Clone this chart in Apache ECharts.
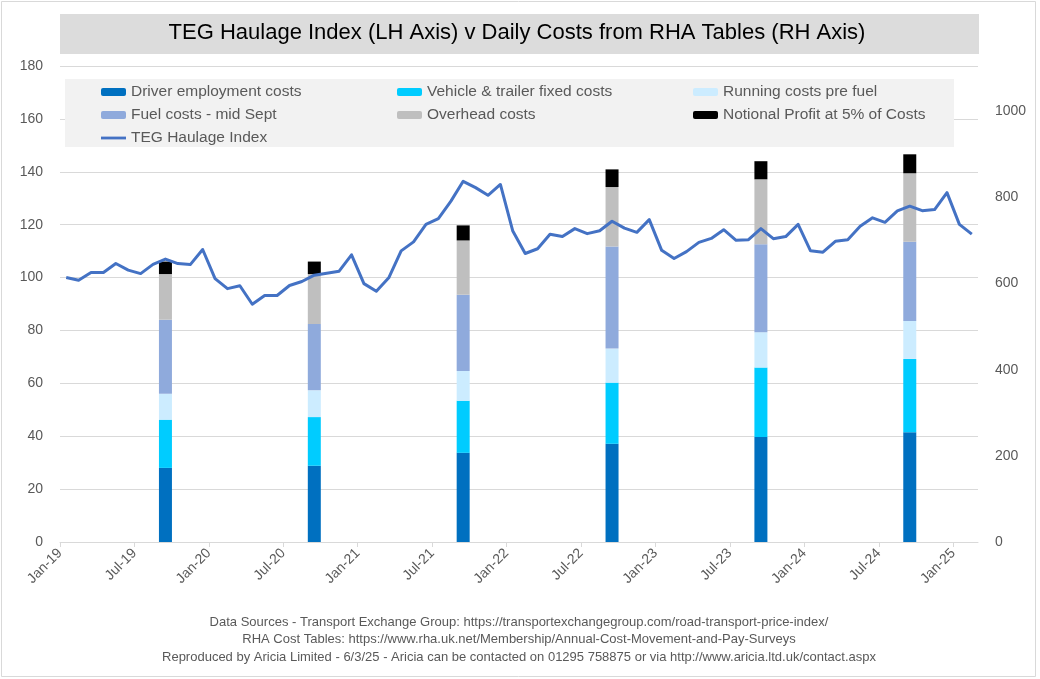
<!DOCTYPE html>
<html>
<head>
<meta charset="utf-8">
<script src="https://cdn.jsdelivr.net/npm/echarts@6/dist/echarts.min.js"></script>
<style>
html,body{margin:0;padding:0;background:#fff;}
#chart{width:1040px;height:679px;}
</style>
</head>
<body>
<div id="chart"></div>
<script>
// ---------------- DATA ----------------
const months = [
 'Jan-19','Feb-19','Mar-19','Apr-19','May-19','Jun-19','Jul-19','Aug-19','Sep-19','Oct-19','Nov-19','Dec-19',
 'Jan-20','Feb-20','Mar-20','Apr-20','May-20','Jun-20','Jul-20','Aug-20','Sep-20','Oct-20','Nov-20','Dec-20',
 'Jan-21','Feb-21','Mar-21','Apr-21','May-21','Jun-21','Jul-21','Aug-21','Sep-21','Oct-21','Nov-21','Dec-21',
 'Jan-22','Feb-22','Mar-22','Apr-22','May-22','Jun-22','Jul-22','Aug-22','Sep-22','Oct-22','Nov-22','Dec-22',
 'Jan-23','Feb-23','Mar-23','Apr-23','May-23','Jun-23','Jul-23','Aug-23','Sep-23','Oct-23','Nov-23','Dec-23',
 'Jan-24','Feb-24','Mar-24','Apr-24','May-24','Jun-24','Jul-24','Aug-24','Sep-24','Oct-24','Nov-24','Dec-24',
 'Jan-25','Feb-25'
];
const tegIndex = [
 100.0, 99.0,101.9,101.9,105.3,102.8,101.5,105.0,107.0,105.3,104.9,110.6,
  99.6, 95.8, 96.9, 89.9, 93.2, 93.2, 97.0, 98.5,100.9,101.6,102.4,108.6,
  97.7, 94.8, 99.9,110.1,113.5,120.1,122.3,128.8,136.4,134.0,131.1,135.2,
 117.6,109.1,110.9,116.4,115.5,118.5,116.6,117.7,121.3,118.7,117.1,121.9,
 110.3,107.2,109.8,113.3,114.8,118.1,114.1,114.3,118.5,114.7,115.5,120.1,
 110.1,109.6,113.7,114.3,119.4,122.6,120.9,125.2,127.0,125.3,125.7,132.1,
 120.1,116.4
];
const costMonths = ['Sep-19','Sep-20','Sep-21','Sep-22','Sep-23','Sep-24'];
const driverCosts   = [172, 177, 207, 228, 244, 255];
const vehicleCosts  = [112, 113, 121, 142, 161, 170];
const runningCosts  = [ 60,  62,  69,  79,  82,  88];
const fuelCosts     = [172, 154, 177, 237, 204, 184];
const overheadCosts = [106, 116, 126, 138, 151, 159];
const profitCosts   = [ 29,  29,  35,  41,  42,  44];
const xTickLabels = ['Jan-19','Jul-19','Jan-20','Jul-20','Jan-21','Jul-21','Jan-22','Jul-22','Jan-23','Jul-23','Jan-24','Jul-24','Jan-25'];
const leftTicks  = [0,20,40,60,80,100,120,140,160,180];
const rightTicks = [0,200,400,600,800,1000];

const titleText = 'TEG Haulage Index (LH Axis) v Daily Costs from RHA Tables (RH Axis)';
const footerLines = [
 'Data Sources - Transport Exchange Group: https://transportexchangegroup.com/road-transport-price-index/',
 'RHA Cost Tables: https://www.rha.uk.net/Membership/Annual-Cost-Movement-and-Pay-Surveys',
 'Reproduced by Aricia Limited - 6/3/25 - Aricia can be contacted on 01295 758875 or via http://www.aricia.ltd.uk/contact.aspx'
];

// ---------------- BUILD ----------------
const FONT = 'Liberation Sans, Arial, sans-serif';
const GREY = '#595959';
const GRID = '#d9d9d9';
const tickPos = xTickLabels.map(m => months.indexOf(m));

function monthly(arr) {
  const out = months.map(() => null);
  costMonths.forEach((m, i) => { out[months.indexOf(m)] = arr[i]; });
  return out;
}
function barSeries(name, arr, color) {
  return {
    name, type: 'bar', stack: 'costs', xAxisIndex: 0, yAxisIndex: 1, barWidth: 13,
    itemStyle: { color }, z: 2, data: monthly(arr)
  };
}

const chart = echarts.init(document.getElementById('chart'), null, { renderer: 'canvas' });
const legendText = { color: GREY, fontSize: 15.5, fontFamily: FONT, lineHeight: 18 };
const legendBase = { orient: 'vertical', top: 83, itemWidth: 25, itemHeight: 8, itemGap: 5,
  textStyle: legendText, selectedMode: false, padding: 0 };
const lineIcon = 'path://M0,0 M25,8 M0,2.6 L25,2.6 L25,5.4 L0,5.4 Z';

chart.setOption({
  animation: false,
  backgroundColor: '#ffffff',
  title: {
    text: titleText, left: 517, top: 22, textAlign: 'center', padding: 0,
    textStyle: { fontFamily: FONT, fontSize: 22, fontWeight: 'normal', color: '#000' }
  },
  graphic: [
    { type: 'rect', shape: { x: 1.5, y: 1.5, width: 1034, height: 675 }, style: { fill: null, stroke: GRID, lineWidth: 1 }, z: 0 },
    { type: 'rect', shape: { x: 60, y: 14, width: 919, height: 40 }, style: { fill: '#dcdcdc' }, z: 0 },
    { type: 'rect', shape: { x: 65, y: 79, width: 889, height: 68 }, style: { fill: '#f2f2f2' }, z: 1 },
    ...footerLines.map((t, k) => ({
      type: 'text', x: 519, y: 622 + k * 17.5,
      style: { text: t, textAlign: 'center', textVerticalAlign: 'middle', fill: GREY, font: '13px ' + FONT }
    }))
  ],
  legend: [
    Object.assign({}, legendBase, { left: 101, data: ['Driver employment costs', 'Fuel costs - mid Sept', { name: 'TEG Haulage Index', icon: lineIcon }] }),
    Object.assign({}, legendBase, { left: 397, data: ['Vehicle & trailer fixed costs', 'Overhead costs'] }),
    Object.assign({}, legendBase, { left: 693, data: ['Running costs pre fuel', 'Notional Profit at 5% of Costs'] })
  ],
  grid: { left: 60, right: 62, top: 66, height: 476, containLabel: false },
  xAxis: [
    {
      type: 'category', data: months, boundaryGap: true,
      axisLine: { show: false }, axisTick: { show: false }, axisLabel: { show: false }, splitLine: { show: false }
    },
    {
      type: 'value', min: 0, max: months.length, position: 'bottom',
      axisLine: { show: true, onZero: false, lineStyle: { color: GRID, width: 1 } },
      axisTick: { show: true, customValues: tickPos, length: 5, lineStyle: { color: GRID } },
      axisLabel: {
        customValues: tickPos, rotate: 45, margin: 9, color: GREY, fontSize: 14, fontFamily: FONT,
        formatter: v => months[Math.round(v)]
      },
      splitLine: { show: false }
    }
  ],
  yAxis: [
    {
      type: 'value', min: 0, max: 180, interval: 20,
      axisLine: { show: false }, axisTick: { show: false },
      axisLabel: { customValues: leftTicks, color: GREY, fontSize: 14, fontFamily: FONT, margin: 17 },
      splitLine: { show: true, lineStyle: { color: GRID, width: 1 } }
    },
    {
      type: 'value', min: 0, max: 1105, interval: 200,
      axisLine: { show: false }, axisTick: { show: false },
      axisLabel: { customValues: rightTicks, color: GREY, fontSize: 14, fontFamily: FONT, margin: 17,
        formatter: v => String(v) },
      splitLine: { show: false }
    }
  ],
  series: [
    barSeries('Driver employment costs', driverCosts, '#0070C0'),
    barSeries('Vehicle & trailer fixed costs', vehicleCosts, '#00CCFF'),
    barSeries('Running costs pre fuel', runningCosts, '#CCECFF'),
    barSeries('Fuel costs - mid Sept', fuelCosts, '#8FAADC'),
    barSeries('Overhead costs', overheadCosts, '#BFBFBF'),
    barSeries('Notional Profit at 5% of Costs', profitCosts, '#000000'),
    {
      name: 'TEG Haulage Index', type: 'line', xAxisIndex: 0, yAxisIndex: 0, data: tegIndex,
      symbol: 'none', z: 3,
      lineStyle: { color: '#4472C4', width: 3, join: 'round' },
      itemStyle: { color: '#4472C4' }
    }
  ]
});
</script>
</body>
</html>
